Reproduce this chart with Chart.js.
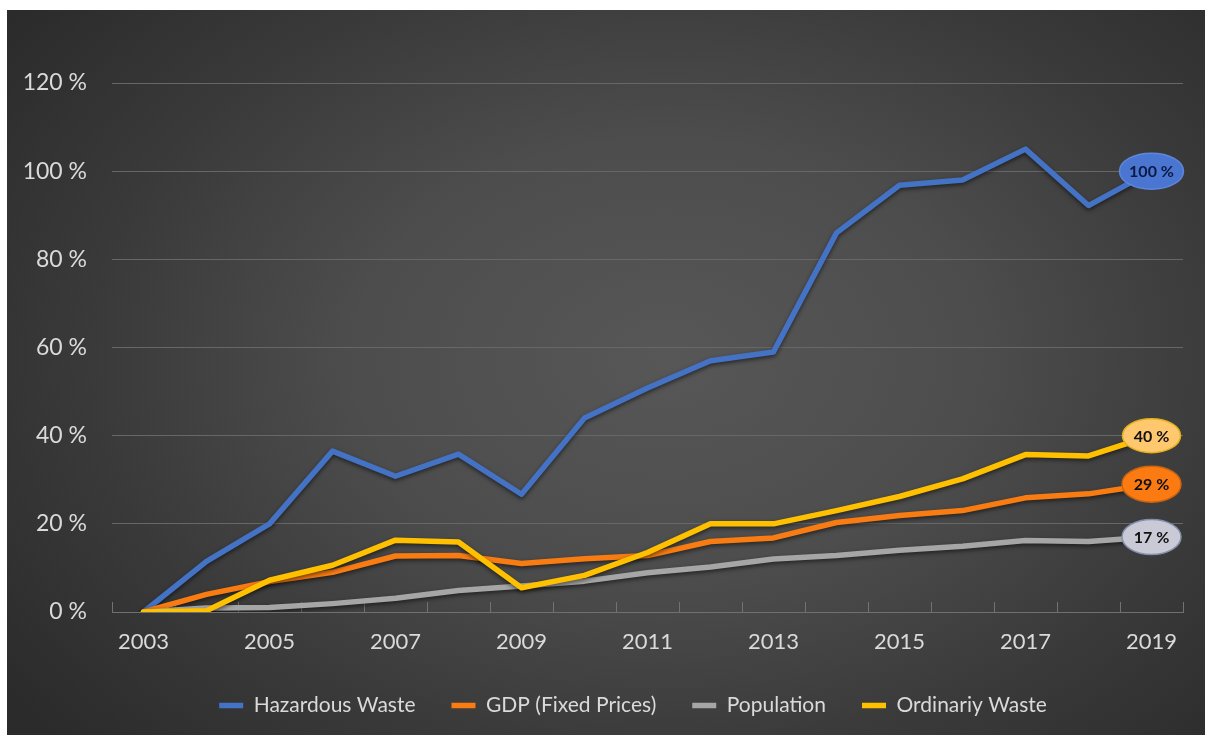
<!DOCTYPE html>
<html>
<head>
<meta charset="utf-8">
<title>Waste, GDP and Population growth since 2003</title>
<script src="https://cdn.jsdelivr.net/npm/chart.js@4.4.1/dist/chart.umd.min.js"></script>
<style>
  html, body { margin: 0; padding: 0; background: #ffffff; }
  #panel {
    position: absolute; left: 7px; top: 10px; width: 1198px; height: 725px;
    background: radial-gradient(ellipse 68% 78% at 55% 48%, #575757 0%, #4d4d4d 38%, #3a3a3a 70%, #2b2b2b 100%);
  }
  canvas { display: block; }
</style>
</head>
<body>
<div id="panel"><canvas id="chart" width="1198" height="725"></canvas></div>
<script>
// Cumulative change since 2003, in percent
const years = ['2003','2004','2005','2006','2007','2008','2009','2010','2011',
               '2012','2013','2014','2015','2016','2017','2018','2019'];
const hazardousWaste = [0, 11.5, 20, 36.5, 30.8, 35.8, 26.7, 44, 50.8, 57, 59, 86, 96.8, 98, 105, 92.2, 100];
const gdpFixedPrices = [0, 4, 6.9, 9, 12.7, 12.8, 11, 12.1, 12.8, 16, 16.8, 20.3, 21.9, 23, 25.9, 26.8, 29];
const population     = [0, 0.9, 1, 1.9, 3.1, 4.9, 5.9, 7, 8.9, 10.2, 12, 12.8, 14, 14.9, 16.2, 16, 17];
const ordinaryWaste  = [0, 0.3, 7.2, 10.6, 16.3, 15.9, 5.5, 8.3, 13.5, 20, 20, 23, 26.2, 30.2, 35.7, 35.4, 40];
const yTickValues = [0, 20, 40, 60, 80, 100, 120];

const FONT = 'Lato, "Open Sans", sans-serif';
const TEXT = '#dadada';
const GRID = '#676767';

// Badge styles for the end-of-series value labels
const badges = [
  { fill: '#4a76d2', stroke: '#5d87dc', text: '#0b1a44', rx: 32, ry: 18 },
  { fill: '#fb7b12', stroke: '#c9640f', text: '#111111', rx: 29.5, ry: 18 },
  { fill: '#cacad6', stroke: '#8390ad', text: '#111111', rx: 29.5, ry: 17.5 },
  { fill: '#ffc76e', stroke: '#e6b21a', text: '#111111', rx: 29, ry: 17 }
];

// Soft drop shadow under each line
const lineShadow = {
  id: 'lineShadow',
  beforeDatasetDraw(chart) {
    const ctx = chart.ctx;
    ctx.save();
    ctx.shadowColor = 'rgba(0,0,0,0.55)';
    ctx.shadowBlur = 4;
    ctx.shadowOffsetY = 2;
  },
  afterDatasetDraw(chart) { chart.ctx.restore(); }
};

// Short inward tick marks at category boundaries on the x axis
const categoryTicks = {
  id: 'categoryTicks',
  beforeDatasetsDraw(chart) {
    const x = chart.scales.x, ctx = chart.ctx;
    const bottom = chart.chartArea.bottom;
    const step = x.getPixelForValue(1) - x.getPixelForValue(0);
    ctx.save();
    ctx.strokeStyle = '#727272';
    ctx.lineWidth = 1;
    ctx.beginPath();
    for (let i = 0; i <= years.length; i++) {
      const px = Math.round(x.getPixelForValue(i) - step / 2) + 0.5;
      ctx.moveTo(px, bottom - 10);
      ctx.lineTo(px, bottom);
    }
    ctx.stroke();
    ctx.restore();
  }
};

// Centre the legend row under the plot area rather than the whole canvas
const legendShift = {
  id: 'legendShift',
  afterLayout(chart) {
    if (chart.legend) chart.legend.left += 76;
  }
};

// Oval value badge on the last point of every series
const endBadges = {
  id: 'endBadges',
  afterDatasetsDraw(chart) {
    const ctx = chart.ctx;
    chart.data.datasets.forEach((ds, i) => {
      const meta = chart.getDatasetMeta(i);
      const last = meta.data.length - 1;
      const pt = meta.data[last];
      const b = badges[i];
      ctx.save();
      ctx.beginPath();
      ctx.ellipse(pt.x, pt.y, b.rx, b.ry, 0, 0, Math.PI * 2);
      ctx.fillStyle = b.fill;
      ctx.fill();
      ctx.lineWidth = 1.5;
      ctx.strokeStyle = b.stroke;
      ctx.stroke();
      ctx.fillStyle = b.text;
      ctx.font = 'bold 16px ' + FONT;
      ctx.textAlign = 'center';
      ctx.textBaseline = 'middle';
      ctx.fillText(Math.round(ds.data[last]) + ' %', pt.x, pt.y + 1);
      ctx.restore();
    });
  }
};

function series(label, data, color, order) {
  return {
    label, data, order,
    borderColor: color,
    backgroundColor: color,
    borderWidth: 5.5,
    borderCapStyle: 'round',
    borderJoinStyle: 'round',
    pointRadius: 0,
    pointHoverRadius: 0,
    tension: 0,
    fill: false
  };
}

new Chart(document.getElementById('chart'), {
  type: 'line',
  data: {
    labels: years,
    datasets: [
      series('Hazardous Waste', hazardousWaste, '#4472c4', 4),
      series('GDP (Fixed Prices)', gdpFixedPrices, '#f97c12', 3),
      series('Population', population, '#a6a6a6', 2),
      series('Ordinariy Waste', ordinaryWaste, '#ffc000', 1)
    ]
  },
  options: {
    responsive: false,
    animation: false,
    devicePixelRatio: 1,
    layout: { padding: { left: 0, right: 22, top: 73, bottom: 9 } },
    scales: {
      x: {
        type: 'category',
        offset: true,
        grid: { display: false, drawTicks: false },
        border: { display: true, color: '#707070', width: 1 },
        ticks: {
          autoSkip: false,
          maxRotation: 0,
          padding: 17,
          color: TEXT,
          font: { family: FONT, size: 22 },
          callback: (v, i) => (i % 2 === 0 ? years[i] : '')
        },
        afterFit(scale) { scale.height = 47; }
      },
      y: {
        min: 0,
        max: 120,
        afterBuildTicks(scale) { scale.ticks = yTickValues.map(v => ({ value: v })); },
        grid: { color: GRID, lineWidth: 1, drawTicks: false },
        border: { display: false },
        ticks: {
          padding: 25,
          color: TEXT,
          font: { family: FONT, size: 23 },
          callback: v => v + ' %'
        },
        afterFit(scale) { scale.width = 105; }
      }
    },
    plugins: {
      legend: {
        position: 'bottom',
        labels: {
          usePointStyle: true,
          pointStyle: 'line',
          pointStyleWidth: 24,
          padding: 36,
          color: TEXT,
          font: { family: FONT, size: 21 },
          sort: (a, b) => a.datasetIndex - b.datasetIndex
        }
      },
      tooltip: { enabled: false }
    }
  },
  plugins: [lineShadow, categoryTicks, legendShift, endBadges]
});
</script>
</body>
</html>
